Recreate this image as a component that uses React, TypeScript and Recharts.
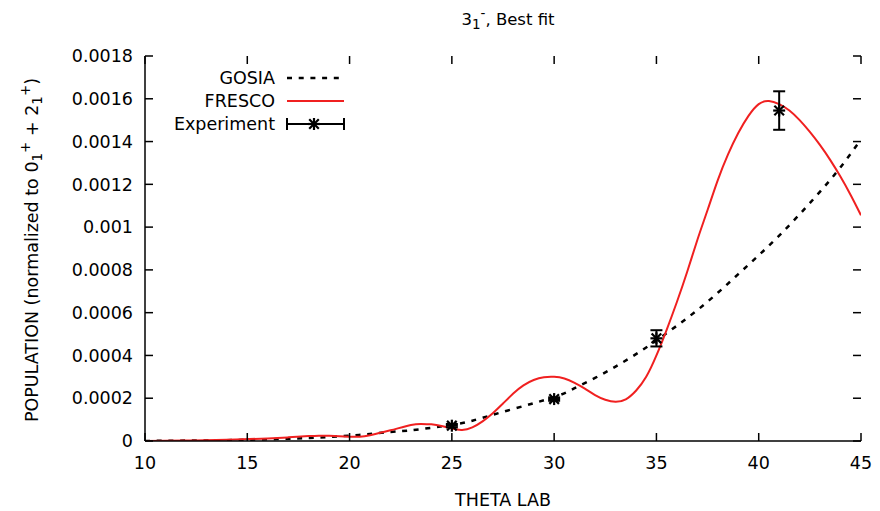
import React from 'react';
import { ComposedChart, Line, Scatter, XAxis, YAxis, ErrorBar, Customized } from 'recharts';

const W = 880;
const H = 511;
const FONT = '"DejaVu Sans", sans-serif';
const FS = 17.5;
const INK = '#000';
const RED = '#f02020';

// Plot frame edges (from the chart margins below)
const PLOT_TOP = 56;
const PLOT_RIGHT = 861;

// Axis ticks
const xTicks = [10, 15, 20, 25, 30, 35, 40, 45];
const yTicks = [0, 0.0002, 0.0004, 0.0006, 0.0008, 0.001, 0.0012, 0.0014, 0.0016, 0.0018];
const yTickLabels = ['0', '0.0002', '0.0004', '0.0006', '0.0008', '0.001', '0.0012', '0.0014', '0.0016', '0.0018'];

// GOSIA calculation
const gosiaTheta = [10, 12, 14, 16, 18, 20, 22, 23, 24, 25, 26, 28, 30, 31, 32, 33, 34, 35, 36, 37, 38, 39, 40, 41, 42, 43, 44, 45];
const gosiaPop = [0, 0.000002, 0.000004, 0.000008, 0.000014, 0.000025, 0.000042, 0.00005, 0.000062, 0.000076, 0.000095,
  0.00015, 0.000205, 0.000247, 0.000295, 0.000348, 0.000406, 0.00047, 0.000539, 0.000612, 0.000693, 0.00078, 0.000868,
  0.00096, 0.00106, 0.001166, 0.00128, 0.00141];

// FRESCO calculation
const frescoTheta = [10, 12, 14, 16, 17, 18, 18.5, 19, 20, 20.5, 21, 22, 23, 23.5, 24, 24.5, 25, 25.5, 26, 26.5, 27, 27.5, 28,
  28.5, 29, 29.5, 30, 30.5, 31, 31.5, 32, 32.5, 33, 33.5, 34, 34.5, 35, 35.5, 36, 36.5, 37, 37.5, 38, 38.5, 39, 39.5, 40, 40.5,
  41, 41.5, 42, 42.5, 43, 43.5, 44, 44.5, 45];
const frescoPop = [0, 0.000002, 0.000006, 0.000012, 0.000017, 0.000023, 0.000025, 0.000024, 0.00002, 0.00002, 0.000027,
  0.00005, 0.000075, 0.00008, 0.000078, 0.00007, 0.000058, 0.000052, 0.000064, 0.000092, 0.00013, 0.000175, 0.000222,
  0.00026, 0.000285, 0.000298, 0.0003, 0.000292, 0.000272, 0.000245, 0.000215, 0.000193, 0.000183, 0.000195, 0.000235,
  0.0003, 0.0004, 0.00052, 0.00065, 0.00079, 0.00094, 0.00108, 0.00122, 0.00134, 0.00144, 0.00152, 0.001575, 0.00159,
  0.001575, 0.001545, 0.0015, 0.001445, 0.001383, 0.001313, 0.001235, 0.001149, 0.001055];

// Measured populations
const expTheta = [25, 30, 35, 41];
const expPop = [0.0000716, 0.000196, 0.00048, 0.001545];
const expErr = [0.000008, 0.000008, 0.000038, 0.00009];

const gosiaData = gosiaTheta.map((t, i) => ({ theta: t, pop: gosiaPop[i] }));
const frescoData = frescoTheta.map((t, i) => ({ theta: t, pop: frescoPop[i] }));
const expData = expTheta.map((t, i) => ({ theta: t, pop: expPop[i], err: expErr[i] }));

const TICK_LEN = 8;
const X_MARGIN = 16;
const Y_MARGIN = 12;

const textStyle = { fontFamily: FONT, fontSize: FS, fill: INK };

// Bottom tick: inward tick, mirrored tick on the top border, and label
const BottomTick = (p: any) => {
  const axisY = p.y - X_MARGIN;
  return (
    <g>
      <line x1={p.x} x2={p.x} y1={axisY} y2={axisY - TICK_LEN} stroke={INK} strokeWidth={1.5} />
      <line x1={p.x} x2={p.x} y1={PLOT_TOP} y2={PLOT_TOP + TICK_LEN} stroke={INK} strokeWidth={1.5} />
      <text x={p.x} y={p.y} dy="0.71em" textAnchor="middle" style={textStyle}>{p.payload.value}</text>
    </g>
  );
};

// Left tick: inward tick, mirrored tick on the right border, and label
const LeftTick = (p: any) => {
  const axisX = p.x + Y_MARGIN;
  const idx = yTicks.indexOf(p.payload.value);
  return (
    <g>
      <line x1={axisX} x2={axisX + TICK_LEN} y1={p.y} y2={p.y} stroke={INK} strokeWidth={1.5} />
      <line x1={PLOT_RIGHT} x2={PLOT_RIGHT - TICK_LEN} y1={p.y} y2={p.y} stroke={INK} strokeWidth={1.5} />
      <text x={p.x} y={p.y} dy="0.355em" textAnchor="end" style={textStyle}>{yTickLabels[idx]}</text>
    </g>
  );
};

const Asterisk = (p: any) => {
  const { cx, cy } = p;
  const r = 6;
  const d = r * 0.8;
  return (
    <g stroke={INK} strokeWidth={2.2}>
      <line x1={cx - r} x2={cx + r} y1={cy} y2={cy} />
      <line x1={cx} x2={cx} y1={cy - r} y2={cy + r} />
      <line x1={cx - d} x2={cx + d} y1={cy - d} y2={cy + d} />
      <line x1={cx - d} x2={cx + d} y1={cy + d} y2={cy - d} />
    </g>
  );
};

const SUB = 13.5;

const Decor = () => (
  <g>
    {/* title */}
    <text x={508} y={25} textAnchor="middle" style={{ ...textStyle, fontSize: 16.5 }}>
      <tspan>3</tspan>
      <tspan dy={4} fontSize={SUB}>1</tspan>
      <tspan dy={-11} fontSize={SUB}>-</tspan>
      <tspan dy={7}>, Best fit</tspan>
    </text>
    {/* y axis title */}
    <text transform="translate(38,250) rotate(-90)" textAnchor="middle" style={textStyle}>
      <tspan>POPULATION (normalized to 0</tspan>
      <tspan dy={4} fontSize={SUB}>1</tspan>
      <tspan dy={-12} fontSize={SUB}>+</tspan>
      <tspan dy={8}> + 2</tspan>
      <tspan dy={4} fontSize={SUB}>1</tspan>
      <tspan dy={-12} fontSize={SUB}>+</tspan>
      <tspan dy={8}>)</tspan>
    </text>
    {/* x axis title */}
    <text x={503} y={506} textAnchor="middle" style={textStyle}>THETA LAB</text>
    {/* key */}
    <text x={275} y={78} dy="0.355em" textAnchor="end" style={textStyle}>GOSIA</text>
    <line x1={287} x2={344} y1={78} y2={78} stroke={INK} strokeWidth={2.5} strokeDasharray="5 6.7" />
    <text x={275} y={101} dy="0.355em" textAnchor="end" style={textStyle}>FRESCO</text>
    <line x1={287} x2={344} y1={101} y2={101} stroke={RED} strokeWidth={2} />
    <text x={275} y={124} dy="0.355em" textAnchor="end" style={textStyle}>Experiment</text>
    <g stroke={INK} strokeWidth={2}>
      <line x1={287} x2={344} y1={124} y2={124} />
      <line x1={287} x2={287} y1={118} y2={130} />
      <line x1={344} x2={344} y1={118} y2={130} />
    </g>
    <Asterisk cx={314} cy={124} />
  </g>
);

export default function App() {
  return (
    <div style={{ position: 'fixed', left: 0, top: 0, width: W, height: H, background: '#fff' }}>
      <ComposedChart width={W} height={H} margin={{ top: PLOT_TOP, right: W - PLOT_RIGHT, bottom: 40, left: 20 }}>
        <XAxis
          xAxisId={0}
          type="number"
          dataKey="theta"
          domain={[10, 45]}
          ticks={xTicks}
          interval={0}
          height={30}
          tickSize={0}
          tickMargin={X_MARGIN}
          tickLine={false}
          axisLine={{ stroke: INK, strokeWidth: 1.5 }}
          tick={BottomTick}
          allowDataOverflow
        />
        <XAxis
          xAxisId="top"
          orientation="top"
          type="number"
          domain={[10, 45]}
          height={0}
          tick={false}
          tickLine={false}
          axisLine={{ stroke: INK, strokeWidth: 1.5 }}
          allowDataOverflow
        />
        <YAxis
          yAxisId={0}
          type="number"
          domain={[0, 0.0018]}
          ticks={yTicks}
          interval={0}
          width={125}
          tickSize={0}
          tickMargin={Y_MARGIN}
          tickLine={false}
          axisLine={{ stroke: INK, strokeWidth: 1.5 }}
          tick={LeftTick}
          allowDataOverflow
        />
        <YAxis
          yAxisId="right"
          orientation="right"
          type="number"
          domain={[0, 0.0018]}
          width={0}
          tick={false}
          tickLine={false}
          axisLine={{ stroke: INK, strokeWidth: 1.5 }}
          allowDataOverflow
        />
        <Line
          data={gosiaData}
          dataKey="pop"
          type="natural"
          stroke={INK}
          strokeWidth={2.5}
          strokeDasharray="5 6.7"
          dot={false}
          activeDot={false}
          isAnimationActive={false}
        />
        <Line
          data={frescoData}
          dataKey="pop"
          type="natural"
          stroke={RED}
          strokeWidth={2}
          dot={false}
          activeDot={false}
          isAnimationActive={false}
        />
        <Scatter data={expData} dataKey="pop" shape={Asterisk} isAnimationActive={false}>
          <ErrorBar dataKey="err" direction="y" width={6} stroke={INK} strokeWidth={2} />
        </Scatter>
        <Customized component={<Decor />} />
      </ComposedChart>
    </div>
  );
}
